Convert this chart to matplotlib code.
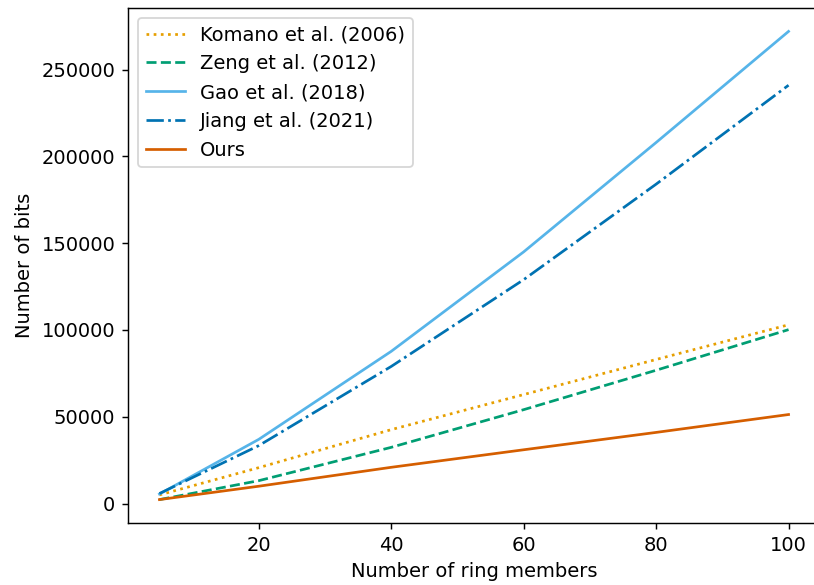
import matplotlib
matplotlib.use("Agg")
import matplotlib.pyplot as plt

members = [5, 20, 40, 60, 80, 100]
komano = [5000, 20700, 42600, 62800, 83000, 103000]
zeng = [2300, 13200, 32400, 54100, 76800, 100200]
gao = [5500, 37000, 87700, 145000, 208000, 272000]
jiang = [5800, 33400, 79000, 129000, 184000, 241000]
ours = [2300, 10000, 20900, 31000, 41000, 51300]

plt.rcParams["font.size"] = 10.8

W, H, DPI = 814, 585, 130
fig = plt.figure(figsize=(W / DPI, H / DPI), dpi=DPI)
ax = fig.add_axes([128 / W, (H - 523) / H, (820 - 128) / W, (523 - 8) / H])

ax.plot(members, komano, linestyle=":", color="#E69F00", label="Komano et al. (2006)")
ax.plot(members, zeng, linestyle="--", color="#009E73", label="Zeng et al. (2012)")
ax.plot(members, gao, linestyle="-", color="#56B4E9", label="Gao et al. (2018)")
ax.plot(members, jiang, linestyle="-.", color="#0072B2", label="Jiang et al. (2021)")
ax.plot(members, ours, linestyle="-", color="#D55E00", label="Ours")

ax.set_xlabel("Number of ring members")
ax.set_ylabel("Number of bits")
ax.legend(loc="upper left")
fig.savefig("out.png", dpi=DPI)
